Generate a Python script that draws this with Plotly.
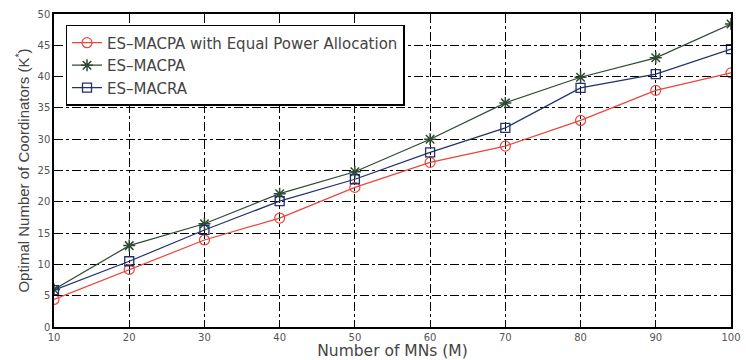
import plotly.graph_objects as go

mns = [10, 20, 30, 40, 50, 60, 70, 80, 90, 100]
equal_power = [4.4, 9.2, 13.9, 17.4, 22.3, 26.3, 28.9, 33.0, 37.8, 40.6]
es_macpa = [6.0, 13.0, 16.5, 21.3, 24.8, 30.0, 35.8, 39.9, 43.0, 48.4]
es_macra = [5.9, 10.5, 15.5, 20.1, 23.6, 27.9, 31.8, 38.2, 40.4, 44.4]
series_names = ["ES\u2013MACPA with Equal Power Allocation", "ES\u2013MACPA", "ES\u2013MACRA"]
x_ticks = [10, 20, 30, 40, 50, 60, 70, 80, 90, 100]
y_ticks = [0, 5, 10, 15, 20, 25, 30, 35, 40, 45, 50]

fig = go.Figure()
fig.add_trace(go.Scatter(x=mns, y=equal_power, name=series_names[0], mode="lines+markers",
                         line=dict(color="#e8453c", width=1.2),
                         marker=dict(symbol="circle-open", size=10, color="#e8453c", line=dict(width=1.2))))
fig.add_trace(go.Scatter(x=mns, y=es_macpa, name=series_names[1], mode="lines+markers",
                         line=dict(color="#2f4a33", width=1.2),
                         marker=dict(symbol="asterisk-open", size=10, color="#2f4a33", line=dict(width=1.5))))
fig.add_trace(go.Scatter(x=mns, y=es_macra, name=series_names[2], mode="lines+markers",
                         line=dict(color="#22306e", width=1.2),
                         marker=dict(symbol="square-open", size=9, color="#22306e", line=dict(width=1.3))))

fig.update_layout(
    template="simple_white",
    width=746, height=360,
    margin=dict(l=54, r=5, t=14, b=32),
    paper_bgcolor="white", plot_bgcolor="white",
    font=dict(family="DejaVu Sans", color="#333"),
    showlegend=True,
    legend=dict(x=0.017, y=0.965, xanchor="left", yanchor="top",
                bgcolor="white", bordercolor="black", borderwidth=1.5,
                font=dict(size=15, color="#444"), tracegroupgap=0, itemwidth=30),
    xaxis=dict(range=[10, 100], tickvals=x_ticks, ticks="inside", ticklen=5, tickcolor="black",
               showline=True, linecolor="black", linewidth=1.5, mirror="ticks",
               showgrid=True, gridcolor="black", gridwidth=1,
               zeroline=False, tickfont=dict(size=10, color="#555"), ticklabeloverflow="allow",
               title=dict(text="Number of MNs (M)", font=dict(size=15.5, color="#444"), standoff=1)),
    yaxis=dict(range=[0, 50], tickvals=y_ticks, ticks="inside", ticklen=5, tickcolor="black",
               showline=True, linecolor="black", linewidth=1.5, mirror="ticks",
               showgrid=True, gridcolor="black", gridwidth=1,
               zeroline=False, tickfont=dict(size=10, color="#555"),
               title=dict(text="Optimal Number of Coordinators (K<sup>*</sup>)",
                          font=dict(family="Liberation Sans, Arial", size=15, color="#444"), standoff=4)),
)
fig.update_xaxes(griddash="dashdot")
fig.update_yaxes(griddash="dashdot")
fig.write_html("out.html")
